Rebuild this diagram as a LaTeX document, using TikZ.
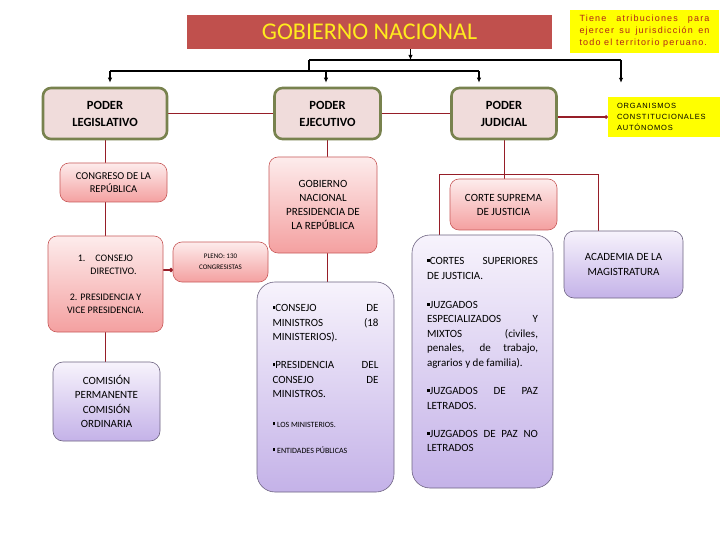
\documentclass[tikz,border=0pt]{standalone}
\usepackage{fontspec}
\setmainfont{Carlito}
\newfontfamily\notefont[LetterSpace=13]{Liberation Sans}
\newfontfamily\orgfont[LetterSpace=11]{Liberation Sans}
\usetikzlibrary{arrows.meta, positioning, calc, backgrounds}

\definecolor{gobred}{RGB}{192,80,77}
\definecolor{gobtext}{RGB}{255,235,30}
\definecolor{noteyellow}{RGB}{255,255,0}
\definecolor{notetext}{RGB}{175,35,25}
\definecolor{poderfill}{RGB}{240,220,219}
\definecolor{poderline}{RGB}{120,130,78}
\definecolor{linkred}{RGB}{150,30,40}
\definecolor{pinktop}{RGB}{253,236,236}
\definecolor{pinkbot}{RGB}{244,160,160}
\definecolor{pinkline}{RGB}{200,90,90}
\definecolor{lilatop}{RGB}{247,243,252}
\definecolor{lilabot}{RGB}{196,178,232}
\definecolor{lilaline}{RGB}{110,100,130}

\newcommand{\sqb}{\rule[2.4pt]{2.8pt}{2.8pt}}

\begin{document}
\begin{tikzpicture}[
  x=1pt, y=-1pt,
  gobbox/.style={fill=gobred, text=gobtext, inner sep=0pt, font=\fontsize{24}{28}\selectfont},
  notebox/.style={fill=noteyellow, text=notetext, inner xsep=9.5pt, inner ysep=0pt, align=justify, font=\notefont\fontsize{9}{12}\selectfont},
  orgbox/.style={fill=noteyellow, inner xsep=9pt, inner ysep=0pt, align=left, font=\orgfont\fontsize{7.5}{11}\selectfont},
  poder/.style={draw=poderline, line width=2.6pt, fill=poderfill, rounded corners=8pt, align=center, inner sep=0pt, minimum height=51pt, font=\fontsize{12.5}{17}\selectfont\bfseries},
  rosa/.style={draw=pinkline, line width=0.6pt, top color=pinktop, bottom color=pinkbot, rounded corners=9pt, align=center, inner sep=0pt},
  lila/.style={draw=lilaline, line width=0.6pt, top color=lilatop, bottom color=lilabot, rounded corners=10pt, align=center, inner sep=0pt},
  redline/.style={draw=linkred, line width=0.9pt},
  busline/.style={draw=black, line width=1.3pt},
  drop/.style={busline, -{Latex[length=5pt,width=4.5pt]}}
]
\useasboundingbox (0,0) rectangle (720,540);

% top
\node[gobbox, minimum width=365pt, minimum height=34pt] (gob) at (369.5,32) {GOBIERNO NACIONAL};
\node[notebox, text width=130pt, minimum height=43pt] (nota) at (644.5,31.5) {Tiene atribuciones para\linebreak ejercer su jurisdicción en\linebreak todo el territorio peruano.};

% poderes
\node[poder, minimum width=124pt] (legis) at (105,113.5) {PODER\\LEGISLATIVO};
\node[poder, minimum width=106pt] (ejec) at (327.5,113.5) {PODER\\EJECUTIVO};
\node[poder, minimum width=105pt] (judic) at (504,113.5) {PODER\\JUDICIAL};
\node[orgbox, text width=94pt, minimum width=112pt, minimum height=40pt] (organ) at (664,117) {ORGANISMOS\\CONSTITUCIONALES\\AUTÓNOMOS};

% legislativo
\node[rosa, minimum width=107pt, minimum height=39pt, font=\fontsize{10.5}{13}\selectfont] (congreso) at (113.5,182.5) {CONGRESO DE LA\\REPÚBLICA};
\node[rosa, minimum width=115pt, minimum height=96pt, font=\fontsize{10}{13}\selectfont] (consejo) at (105.5,284) {1.\hspace{10pt}CONSEJO\\\hspace{16pt}DIRECTIVO.\\[13pt]2. PRESIDENCIA Y\\VICE PRESIDENCIA.};
\node[rosa, minimum width=95pt, minimum height=40pt, font=\fontsize{7}{11}\selectfont] (pleno) at (220.5,262) {PLENO: 130\\CONGRESISTAS};
\node[lila, minimum width=107pt, minimum height=79pt, font=\fontsize{11}{14.5}\selectfont] (comision) at (106.5,401.5) {COMISIÓN\\PERMANENTE\\COMISIÓN\\ORDINARIA};

% ejecutivo
\node[rosa, minimum width=108pt, minimum height=96pt, font=\fontsize{11}{14}\selectfont] (gobpres) at (323,205) {GOBIERNO\\NACIONAL\\PRESIDENCIA DE\\LA REPÚBLICA};
\node[lila, rounded corners=18pt, minimum width=137pt, minimum height=210pt] (ministros) at (325.5,387) {\parbox[t][165pt][t]{106pt}{\fontsize{11}{14.5}\selectfont
\sqb CONSEJO DE\linebreak MINISTROS (18\linebreak MINISTERIOS).\par\vspace{13.5pt}
\sqb PRESIDENCIA DEL\linebreak CONSEJO DE\linebreak MINISTROS.\par\vspace{20pt}
{\fontsize{8}{10}\selectfont\sqb\ LOS MINISTERIOS.\par}\vspace{16pt}
{\fontsize{8}{10}\selectfont\sqb\ ENTIDADES PÚBLICAS\par}}};

% judicial
\node[rosa, minimum width=107pt, minimum height=51pt, font=\fontsize{11}{14}\selectfont] (corte) at (503.5,204.5) {CORTE SUPREMA\\DE JUSTICIA};
\node[lila, rounded corners=18pt, minimum width=141pt, minimum height=253pt] (cortes) at (482.5,361.5) {\parbox[t][208pt][t]{111pt}{\fontsize{11}{14.5}\selectfont
\sqb CORTES SUPERIORES\linebreak DE JUSTICIA.\par\vspace{14.5pt}
\sqb JUZGADOS\linebreak ESPECIALIZADOS Y\linebreak MIXTOS (civiles,\linebreak penales, de trabajo,\linebreak agrarios y de familia).\par\vspace{14pt}
\sqb JUZGADOS DE PAZ\linebreak LETRADOS.\par\vspace{13.5pt}
\sqb JUZGADOS DE PAZ NO\linebreak LETRADOS}};
\node[lila, minimum width=119pt, minimum height=67pt, font=\fontsize{11}{15}\selectfont] (academia) at (623.5,264.5) {ACADEMIA DE LA\\MAGISTRATURA};

% black branches
\coordinate (gobdrop) at ([xshift=41pt]gob.south);
\coordinate (busL) at (309,60);
\coordinate (busR) at (621,60);
\coordinate (busLow) at (309,71);
\coordinate (legisdrop) at (110,71);
\coordinate (ejecdrop) at (326,71);
\coordinate (judicdrop) at (479,71);
\draw[drop] (gobdrop) -- (gobdrop |- busL);
\draw[busline] (busL) -- (busR);
\draw[busline] (busL) -- (busLow);
\draw[busline] (legisdrop) -- (judicdrop);
\draw[drop] (legisdrop) -- ($(legisdrop |- legis.north)+(0,-4)$);
\draw[drop] (ejecdrop) -- ($(ejecdrop |- ejec.north)+(0,-4)$);
\draw[drop] (judicdrop) -- ($(judicdrop |- judic.north)+(0,-4)$);
\draw[drop] (busR) -- ($(busR |- organ.north)+(0,-14)$);

% red links
\coordinate (plenoin) at (173,270);
\coordinate (jleft) at (439,174);
\coordinate (jright) at (598,174);
\begin{scope}[on background layer]
\fill[white] (0,0) rectangle (720,540);
\draw[redline] (legis.east) -- (ejec.west);
\draw[redline] (ejec.east) -- (judic.west);
\draw[redline, line width=1.3pt, -{Circle[length=3.5pt]}] (judic.east |- organ.west) -- (organ.west);
\draw[redline] (legis.south) -- (legis.south |- congreso.north);
\draw[redline] (legis.south |- congreso.south) -- (legis.south |- consejo.north);
\draw[redline] (consejo.south) -- (consejo.south |- comision.north);
\draw[redline, line width=2.2pt, -{Circle[length=4pt]}] (consejo.east |- plenoin) -- (plenoin);
\draw[redline] (ejec.south) -- (ejec.south |- gobpres.north);
\draw[redline] (ejec.south |- gobpres.south) -- (ejec.south |- ministros.north);
\draw[redline] (judic.south) -- (judic.south |- corte.north);
\draw[redline] (cortes.north -| jleft) -- (jleft) -- (jright) -- (academia.north -| jright);
\end{scope}

\end{tikzpicture}
\end{document}
